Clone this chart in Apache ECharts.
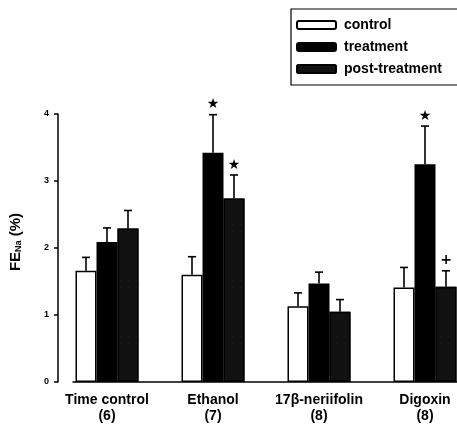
<!DOCTYPE html>
<html lang="en">
<head>
  <meta charset="UTF-8">
  <title>FENa</title>
  <script src="https://cdn.jsdelivr.net/npm/echarts@6/dist/echarts.min.js"></script>
</head>
<body style="margin:0">
  <div id="main" style="width:457px;height:430px"></div>
  <script>
    // data
    var groups = ['Time control\n(6)', 'Ethanol\n(7)', '17β-neriifolin\n(8)', 'Digoxin\n(8)'];
    var control = [1.66, 1.60, 1.13, 1.41];
    var controlErr = [0.20, 0.27, 0.20, 0.30];
    var treatment = [2.09, 3.42, 1.47, 3.25];
    var treatmentErr = [0.21, 0.57, 0.17, 0.57];
    var post = [2.29, 2.74, 1.05, 1.42];
    var postErr = [0.27, 0.35, 0.18, 0.24];
    var treatmentSig = ['', '★', '', '★'];
    var postSig = ['', '★', '', '+'];
    var yTicks = [0, 1, 2, 3, 4];

    var BAR_W = 21;
    var font = 'Liberation Sans, Arial, sans-serif';

    var myChart = echarts.init(document.getElementById('main'));

    // rows for error bars: [cat, mean, err, mark, slot]
    function errRows(mean, err, sig, slot) {
      return mean.map(function (m, i) { return [i, m, err[i], sig ? sig[i] : '', slot]; });
    }

    function renderErr(params, api) {
      var slot = api.value(4);
      var base = api.coord([api.value(0), api.value(1)]);
      var top = api.coord([api.value(0), api.value(1) + api.value(2)]);
      var x = base[0] + slot * BAR_W;
      var style = { stroke: '#000', lineWidth: 1.6 };
      var children = [
        { type: 'line', shape: { x1: x, y1: base[1], x2: x, y2: top[1] }, style: style },
        { type: 'line', shape: { x1: x - 4, y1: top[1], x2: x + 4, y2: top[1] }, style: style }
      ];
      var mark = api.value(3);
      if (mark) {
        children.push({
          type: 'text',
          style: {
            text: mark, x: x, y: top[1] - 3,
            align: 'center', verticalAlign: 'bottom',
            font: 'bold 14px DejaVu Sans', fill: '#000'
          }
        });
      }
      return { type: 'group', children: children };
    }

    var option = {
      animation: false,
      backgroundColor: '#fff',
      legend: {
        orient: 'vertical',
        left: 291, top: 9,
        padding: [9, 20, 9, 5],
        itemGap: 8,
        itemWidth: 39, itemHeight: 8,
        icon: 'roundRect',
        borderColor: '#000', borderWidth: 1.2,
        textStyle: { fontFamily: font, fontSize: 14, fontWeight: 'bold', color: '#000', padding: [0, 0, 0, 3] },
        data: ['control', 'treatment', 'post-treatment']
      },
      grid: [
        { left: 54, top: 114, width: 424, height: 268, outerBoundsMode: 'none' },
        { left: 73, top: 114, width: 405, height: 268, outerBoundsMode: 'none' }
      ],
      xAxis: [
        {
          type: 'category', gridIndex: 0, data: groups,
          axisLine: { show: false }, axisTick: { show: false },
          axisLabel: {
            interval: 0, margin: 10, fontFamily: font, fontSize: 14, fontWeight: 'bold',
            color: '#000', lineHeight: 16
          }
        },
        {
          type: 'value', gridIndex: 1, min: 0, max: 1,
          axisLine: { show: true, lineStyle: { color: '#000', width: 1.5 } },
          axisTick: { show: false }, axisLabel: { show: false }, splitLine: { show: false }
        }
      ],
      yAxis: [
        {
          type: 'value', gridIndex: 0, min: yTicks[0], max: yTicks[yTicks.length - 1], interval: 1,
          offset: -4,
          name: 'FE{sub|Na} (%)',
          nameLocation: 'middle', nameRotate: 90, nameGap: 35,
          nameTextStyle: {
            fontFamily: font, fontSize: 15, fontWeight: 'bold', color: '#000',
            padding: [0, 0, 0, 12],
            rich: { sub: { fontFamily: font, fontSize: 9, fontWeight: 'bold', verticalAlign: 'bottom', padding: [6, 0, 0, 0] } }
          },
          axisLine: { show: true, lineStyle: { color: '#000', width: 1.5 } },
          axisTick: { show: true, inside: false, length: 4, lineStyle: { color: '#000', width: 1.5 } },
          axisLabel: { margin: 9, fontFamily: font, fontSize: 9, fontWeight: 'bold', color: '#000' },
          splitLine: { show: false }
        },
        {
          type: 'value', gridIndex: 1, min: 0, max: 4, show: false
        }
      ],
      series: [
        {
          name: 'control', type: 'bar', data: control, barWidth: BAR_W, barGap: '0%',
          itemStyle: { color: '#fff', borderColor: '#000', borderWidth: 1.5 }
        },
        {
          name: 'treatment', type: 'bar', data: treatment, barWidth: BAR_W, barGap: '0%',
          itemStyle: { color: '#000', borderColor: '#000', borderWidth: 1.5 }
        },
        {
          name: 'post-treatment', type: 'bar', data: post, barWidth: BAR_W, barGap: '0%',
          itemStyle: {
            color: '#111', borderColor: '#000', borderWidth: 1.5,
            decal: { symbol: 'rect', symbolSize: 0.4, color: 'rgba(255,255,255,0.22)', dashArrayX: [1, 7], dashArrayY: [1, 6], rotation: 0 }
          }
        },
        { type: 'custom', renderItem: renderErr, data: errRows(control, controlErr, null, -1), z: 5 },
        { type: 'custom', renderItem: renderErr, data: errRows(treatment, treatmentErr, treatmentSig, 0), z: 5 },
        { type: 'custom', renderItem: renderErr, data: errRows(post, postErr, postSig, 1), z: 5 }
      ]
    };

    myChart.setOption(option);
  </script>
</body>
</html>
